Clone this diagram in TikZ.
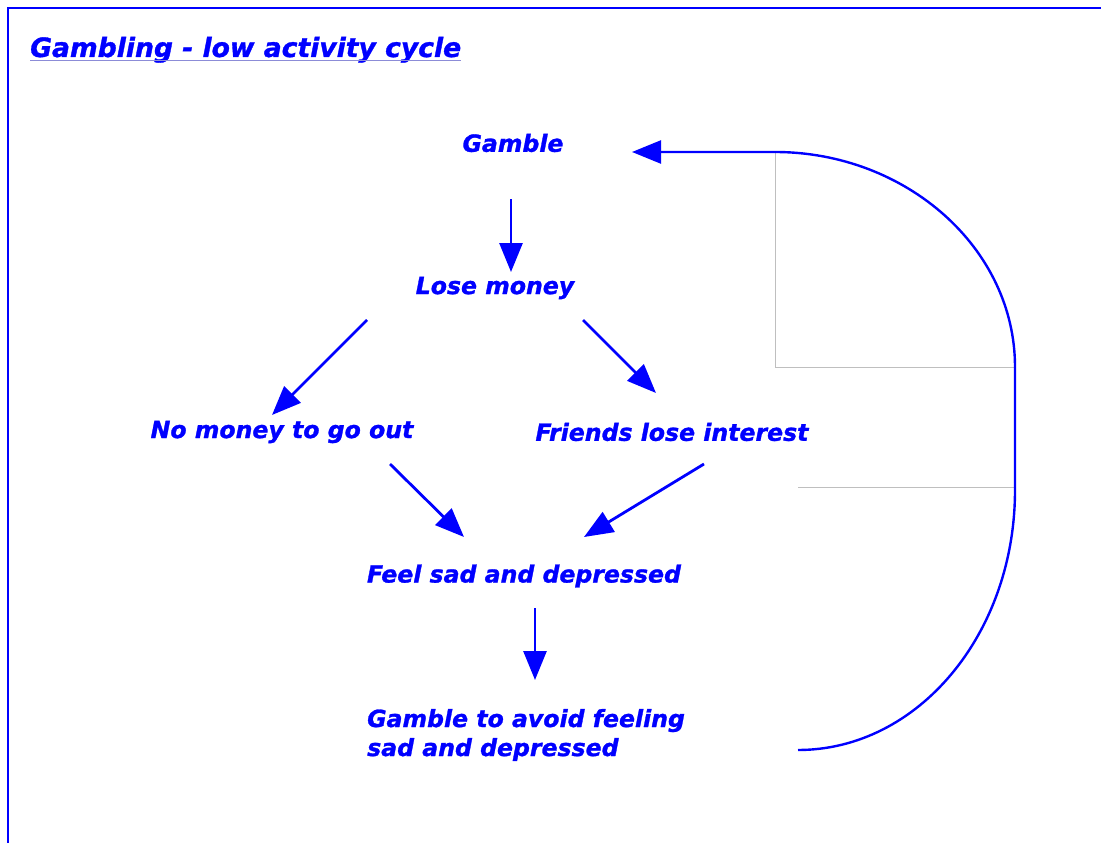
\documentclass[tikz,border=0pt]{standalone}
\usepackage{fontspec}
\setmainfont{DejaVu Sans}[BoldItalicFeatures={FakeBold=1.2}]
\usepackage{tikz}
\usetikzlibrary{arrows.meta}

\begin{document}
\begin{tikzpicture}[x=1pt, y=-1pt,
textnode/.style={text=blue, font=\fontsize{23.6}{29}\selectfont\bfseries\itshape, inner sep=0pt},
titlenode/.style={text=blue, font=\fontsize{26.6}{30}\selectfont\bfseries\itshape, inner sep=0pt},
arrowline/.style={draw=blue, line width=2.8pt, -{Triangle[length=29pt, width=23pt]}},
loopline/.style={draw=blue, line width=2.4pt, -{Triangle[length=29pt, width=23pt]}},
boxline/.style={draw=black!25, line width=1pt},
]
\useasboundingbox (0,0) rectangle (1101,843);
%Frame
\draw[blue, line width=2.5pt] (8,843) -- (8,8) -- (1101,8);

%Nodes
\node[titlenode, anchor=base west] (Title) at (30,57) {Gambling - low activity cycle};
\node[textnode]             (Gamble)     at (513,143) {Gamble};
\node[textnode]             (LoseMoney)  at (495,288) {Lose money};
\node[textnode]             (NoMoney)    at (282,432) {No money to go out};
\node[textnode]             (Friends)    at (672,432) {Friends lose interest};
\node[textnode]             (FeelSad)    at (524,576) {Feel sad and depressed};
\node[textnode, align=left, anchor=west] (GambleAvoid) at (367,735) {Gamble to avoid feeling\\sad and depressed};

%Underline
\draw[draw=black!35!blue!45, line width=1.3pt] ([yshift=-3.5]Title.base west) -- ([yshift=-3.5]Title.base east);

%Lines
\draw[arrowline] ([shift={(-2,56)}]Gamble.center) -- ([shift={(16,-16)}]LoseMoney.center);
\draw[arrowline] ([shift={(-128,32)}]LoseMoney.center) -- ([shift={(-10,-17)}]NoMoney.center);
\draw[arrowline] ([shift={(88,32)}]LoseMoney.center) -- ([shift={(-16,-39)}]Friends.center);
\draw[arrowline] ([shift={(108,32)}]NoMoney.center) -- ([shift={(-60,-39)}]FeelSad.center);
\draw[arrowline] ([shift={(32,32)}]Friends.center) -- ([shift={(60,-39)}]FeelSad.center);
\draw[arrowline] ([shift={(11,32)}]FeelSad.center) -- ([shift={(168,-55)}]GambleAvoid.west);

%Loop back
\draw[boxline] (775,152) -- (775,367) -- (1015,367);
\draw[boxline] (798,487) -- (1015,487);
\draw[loopline] ([shift={(431,15)}]GambleAvoid.west)
  .. controls (918,750) and (1015,634) .. (1015,490)
  -- (1015,367)
  .. controls (1015,248) and (906,152) .. (775,152)
  -- ([shift={(119,9)}]Gamble.center);

\end{tikzpicture}
\end{document}
